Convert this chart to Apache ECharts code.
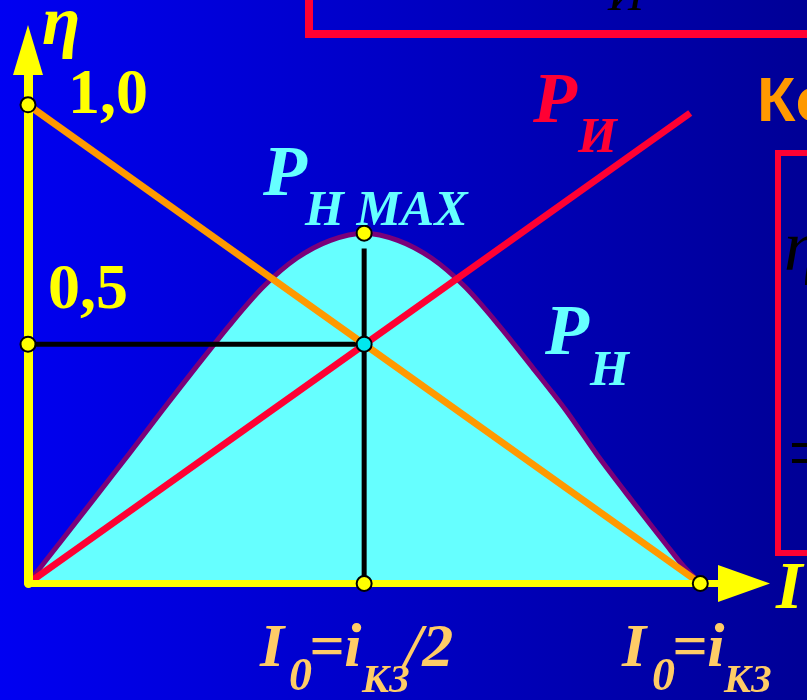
<!DOCTYPE html>
<html>
<head>
<meta charset="utf-8">
<script src="https://cdn.jsdelivr.net/npm/echarts@6/dist/echarts.min.js"></script>
<style>
  html, body { margin: 0; padding: 0; }
  #chart { width: 807px; height: 700px; }
</style>
</head>
<body>
<div id="chart"></div>
<script>
// кривая полезной мощности P_H (x в долях i_КЗ, y в единицах η)
const loadX = [0, 0.05, 0.1, 0.15, 0.2, 0.25, 0.3, 0.35, 0.4, 0.45, 0.5, 0.55, 0.6, 0.65, 0.7, 0.75, 0.8, 0.85, 0.9, 0.95, 0.975, 1];
const loadY = [0, 0.09, 0.18, 0.27, 0.362, 0.452, 0.54, 0.62, 0.68, 0.717, 0.732, 0.717, 0.68, 0.62, 0.54, 0.452, 0.362, 0.262, 0.17, 0.08, 0.036, 0];
// КПД η
const effX = [0, 1];
const effY = [1, 0];
// мощность источника P_И
const srcX = [0, 0.985];
const srcY = [0, 0.983];
// вспомогательные линии
const hLineX = [0, 0.5];
const hLineY = [0.5, 0.5];
const vLineX = [0.5, 0.5];
const vLineY = [0, 0.70];
// точки
const dotX = [0, 0, 0.5, 0.5, 1];
const dotY = [1, 0.5, 0.732, 0, 0];
const crossX = [0.5];
const crossY = [0.5];

const zip = (xs, ys) => xs.map((x, i) => [x, ys[i]]);

const SERIF = '"Liberation Serif", "Times New Roman", serif';
const LABEL = '#ffcc66';

function txt(text, x, y, size, fill, style, family) {
  return {
    type: 'text',
    z: 100,
    style: {
      text: text,
      x: x,
      y: y,
      fill: fill,
      font: (style || 'italic bold') + ' ' + size + 'px ' + (family || SERIF),
      verticalAlign: 'middle'
    }
  };
}

const chart = echarts.init(document.getElementById('chart'));

chart.setOption({
  animation: false,
  backgroundColor: {
    type: 'linear', x: 0, y: 0, x2: 1, y2: 0,
    colorStops: [{ offset: 0, color: '#0000f2' }, { offset: 1, color: '#000096' }]
  },
  grid: { left: 28, top: 57, width: 716, height: 526.5 },
  xAxis: {
    type: 'value',
    min: 0,
    max: 1.065,
    z: 5,
    splitLine: { show: false },
    axisTick: { show: false },
    axisLabel: { show: false },
    axisLine: {
      lineStyle: { color: '#ffff00', width: 7 },
      symbol: ['none', 'triangle'],
      symbolSize: [37, 52]
    }
  },
  yAxis: {
    type: 'value',
    min: 0,
    max: 1.1,
    z: 5,
    splitLine: { show: false },
    axisTick: { show: false },
    axisLabel: { show: false },
    axisLine: {
      lineStyle: { color: '#ffff00', width: 9 },
      symbol: ['none', 'triangle'],
      symbolSize: [30, 50],
      symbolOffset: [0, 7]
    }
  },
  series: [
    {
      name: 'P_H',
      type: 'line',
      data: zip(loadX, loadY),
      smooth: 0.3,
      showSymbol: false,
      z: 2,
      lineStyle: { color: '#7a007a', width: 5 },
      areaStyle: { color: '#66ffff', opacity: 1 }
    },
    {
      name: 'h',
      type: 'line',
      data: zip(hLineX, hLineY),
      showSymbol: false,
      z: 3,
      lineStyle: { color: '#000', width: 5 }
    },
    {
      name: 'v',
      type: 'line',
      data: zip(vLineX, vLineY),
      showSymbol: false,
      z: 3,
      lineStyle: { color: '#000', width: 5 }
    },
    {
      name: 'eta',
      type: 'line',
      data: zip(effX, effY),
      showSymbol: false,
      z: 4,
      lineStyle: { color: '#ff9900', width: 7 }
    },
    {
      name: 'P_I',
      type: 'line',
      data: zip(srcX, srcY),
      showSymbol: false,
      z: 4,
      lineStyle: { color: '#ff0033', width: 7 }
    },
    {
      name: 'dots',
      type: 'scatter',
      data: zip(dotX, dotY),
      symbolSize: 15,
      z: 10,
      itemStyle: { color: '#ffff00', borderColor: '#000', borderWidth: 2, opacity: 1 }
    },
    {
      name: 'cross',
      type: 'scatter',
      data: zip(crossX, crossY),
      symbolSize: 15,
      z: 10,
      itemStyle: { color: '#00e8ee', borderColor: '#000', borderWidth: 2, opacity: 1 }
    }
  ],
  graphic: [
    // рамки от соседних блоков слайда
    { type: 'rect', z: 1, shape: { x: 309, y: -100, width: 700, height: 134 },
      style: { fill: 'none', stroke: '#ff0033', lineWidth: 8 } },
    { type: 'rect', z: 1, shape: { x: 778, y: 153, width: 200, height: 400 },
      style: { fill: 'none', stroke: '#ff0033', lineWidth: 6 } },
    txt('И', 608, -3, 50, '#000', 'italic'),
    txt('η', 784, 251, 72, '#000', 'italic'),
    txt('=', 788, 459, 80, '#000', 'normal'),
    txt('Ко', 757, 104, 63, '#ff9900', 'bold', '"Liberation Sans Narrow", "Liberation Sans", sans-serif'),

    // подписи осей
    txt('η', 42, 26, 70, '#ffff00'),
    txt('I', 776, 590, 68, '#ffff00'),
    txt('1,0', 68, 96, 64, '#ffff00', 'bold'),
    txt('0,5', 48, 291, 64, '#ffff00', 'bold'),

    // подписи кривых
    txt('P', 263, 176, 72, '#66ffff'),
    txt('Н MAX', 305, 212, 50, '#66ffff'),
    txt('P', 545, 335, 72, '#66ffff'),
    txt('Н', 590, 372, 50, '#66ffff'),
    txt('P', 533, 103, 72, '#ff0033'),
    txt('И', 578, 139, 50, '#ff0033'),

    // токи под осью
    txt('I', 260, 650, 62, LABEL),
    txt('0', 289, 678, 46, LABEL),
    txt('=i', 309, 650, 62, LABEL),
    txt('КЗ', 362, 682, 40, LABEL),
    txt('/2', 405, 650, 62, LABEL),
    txt('I', 622, 650, 62, LABEL),
    txt('0', 652, 678, 46, LABEL),
    txt('=i', 672, 650, 62, LABEL),
    txt('КЗ', 724, 682, 40, LABEL)
  ]
});
</script>
</body>
</html>
